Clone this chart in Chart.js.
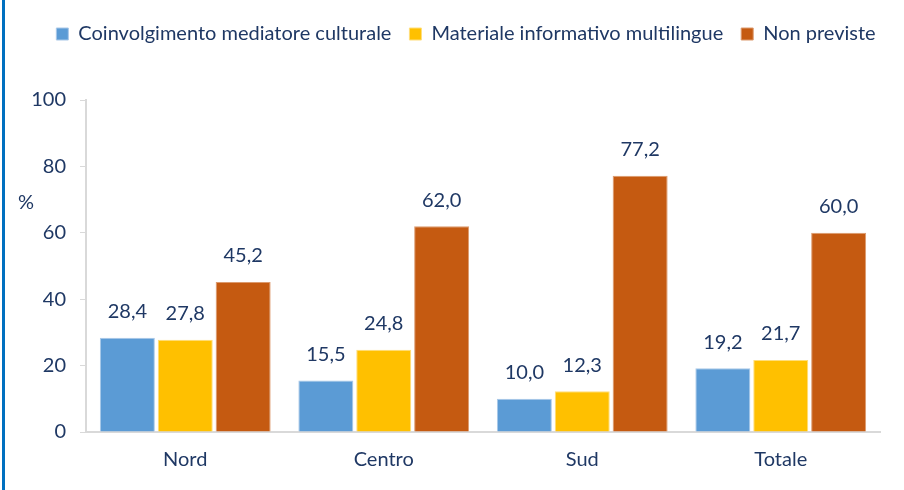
<!DOCTYPE html>
<html>
<head>
<meta charset="utf-8">
<script src="https://cdn.jsdelivr.net/npm/chart.js@4.4.1/dist/chart.umd.min.js"></script>
<style>
  html, body { margin: 0; padding: 0; background: #fff; }
  #wrap { position: relative; width: 904px; height: 490px; }
  #edge { position: absolute; left: 2px; top: 0; width: 3px; height: 490px; background: #0070C0; }
</style>
</head>
<body>
<div id="wrap">
  <div id="edge"></div>
  <canvas id="chart" width="904" height="490"></canvas>
</div>
<script>
const categories = ['Nord', 'Centro', 'Sud', 'Totale'];
const mediatore = [28.4, 15.5, 10.0, 19.2];
const materiale = [27.8, 24.8, 12.3, 21.7];
const nonPreviste = [45.2, 62.0, 77.2, 60.0];
const yTicks = [0, 20, 40, 60, 80, 100];

const navy = '#1F3864';
const fontFamily = 'Lato, "Open Sans", sans-serif';
const fontSize = 20;

// valori sopra le barre
const valueLabels = {
  id: 'valueLabels',
  afterDatasetsDraw(chart) {
    const ctx = chart.ctx;
    ctx.save();
    ctx.fillStyle = navy;
    ctx.font = fontSize + 'px ' + fontFamily;
    ctx.textAlign = 'center';
    ctx.textBaseline = 'middle';
    chart.data.datasets.forEach((ds, i) => {
      chart.getDatasetMeta(i).data.forEach((bar, j) => {
        ctx.fillText(ds.data[j].toFixed(1).replace('.', ','), bar.x, bar.y - 26);
      });
    });
    // unità asse y
    ctx.textAlign = 'left';
    ctx.fillText('%', 18, 203);
    ctx.restore();
  }
};

// spazio sotto la legenda e legenda centrata sull'area del grafico
const legendSpace = {
  id: 'legendSpace',
  beforeInit(chart) {
    const fit = chart.legend.fit;
    chart.legend.fit = function () {
      fit.bind(chart.legend)();
      this.height += 46;
    };
  },
  afterLayout(chart) {
    chart.legend.left += 26;
    chart.legend.right += 26;
  }
};

new Chart(document.getElementById('chart'), {
  type: 'bar',
  data: {
    labels: categories,
    datasets: [
      { label: 'Coinvolgimento mediatore culturale', data: mediatore, backgroundColor: '#5B9BD5', borderColor: '#A9C8E8', borderWidth: 1 },
      { label: 'Materiale informativo multilingue', data: materiale, backgroundColor: '#FFC000', borderColor: '#FFDE7A', borderWidth: 1 },
      { label: 'Non previste', data: nonPreviste, backgroundColor: '#C55A11', borderColor: '#DC9A6E', borderWidth: 1 }
    ]
  },
  options: {
    responsive: false,
    animation: false,
    layout: { padding: { left: 0, right: 24, top: 6, bottom: 10 } },
    datasets: { bar: { categoryPercentage: 0.875, barPercentage: 0.95 } },
    scales: {
      x: {
        grid: { display: false },
        border: { display: true, color: '#D9D9D9', width: 2 },
        ticks: { color: navy, font: { family: fontFamily, size: fontSize }, padding: 8 }
      },
      y: {
        min: 0,
        max: 100,
        afterBuildTicks: (scale) => { scale.ticks = yTicks.map(v => ({ value: v })); },
        afterFit: (scale) => { scale.width = 86; },
        grid: { drawOnChartArea: false, drawTicks: true, tickLength: 6, color: '#D9D9D9' },
        border: { display: true, color: '#D9D9D9', width: 2 },
        ticks: { color: navy, font: { family: fontFamily, size: fontSize }, padding: 14 }
      }
    },
    plugins: {
      legend: {
        position: 'top',
        labels: { color: navy, font: { family: fontFamily, size: fontSize }, boxWidth: 12, boxHeight: 12, padding: 18 }
      },
      tooltip: { enabled: false }
    }
  },
  plugins: [valueLabels, legendSpace]
});
</script>
</body>
</html>
